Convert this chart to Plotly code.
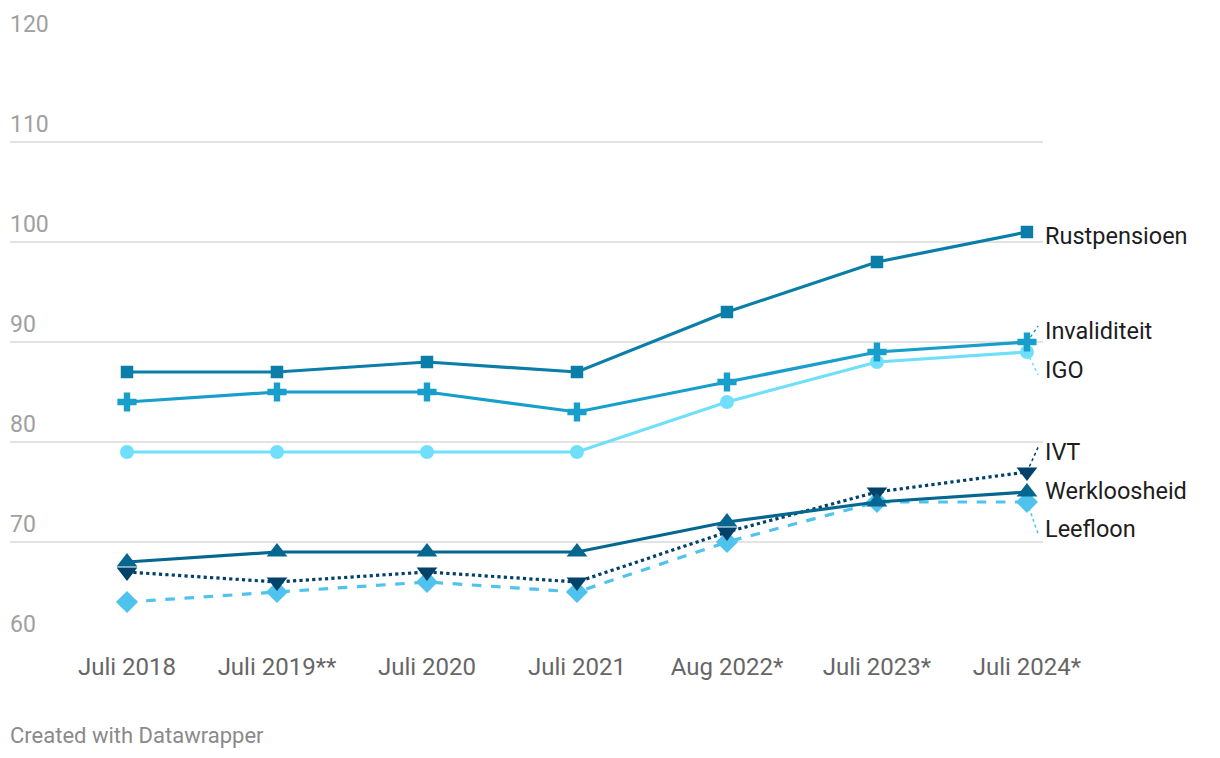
import plotly.graph_objects as go

categories = ["Juli 2018", "Juli 2019**", "Juli 2020", "Juli 2021", "Aug 2022*", "Juli 2023*", "Juli 2024*"]
rustpensioen = [87, 87, 88, 87, 93, 98, 101]
invaliditeit = [84, 85, 85, 83, 86, 89, 90]
igo = [79, 79, 79, 79, 84, 88, 89]
werkloosheid = [68, 69, 69, 69, 72, 74, 75]
ivt = [67, 66, 67, 66, 71, 75, 77]
leefloon = [64, 65, 66, 65, 70, 74, 74]
y_ticks = [60, 70, 80, 90, 100, 110, 120]

series = [
    # name, values, color, dash, symbol, size, label y, leader
    ("Leefloon", leefloon, "#4fc3ee", "dash", "diamond", 17, 71.3, True),
    ("IVT", ivt, "#01426a", "dot", "triangle-down", 18, 79.0, True),
    ("Werkloosheid", werkloosheid, "#05668f", "solid", "triangle-up", 18, 75.1, False),
    ("IGO", igo, "#6fdffc", "solid", "circle", 14, 87.2, True),
    ("Invaliditeit", invaliditeit, "#189ecb", "solid", "cross", 16, 91.1, True),
    ("Rustpensioen", rustpensioen, "#0a7ea8", "solid", "square", 12.5, 100.6, False),
]

x = list(range(len(categories)))
fig = go.Figure()
shapes = []
for name, vals, color, dash, symbol, size, ly, leader in series:
    fig.add_trace(go.Scatter(
        x=x, y=vals, mode="lines+markers", name=name,
        line=dict(color=color, width=3.2, dash=dash),
        marker=dict(symbol=symbol, size=size, color=color, line=dict(width=0)),
        showlegend=False,
    ))
    fig.add_annotation(
        x=x[-1], y=ly, xref="x", yref="y", text=name, showarrow=False,
        xanchor="left", yanchor="middle", xshift=16,
        font=dict(family="Roboto", size=23.5, color="#1d1d1d"),
    )
    if leader:
        shapes.append(dict(
            type="line", xref="x", yref="y",
            x0=x[-1], y0=vals[-1], x1=x[-1] + 0.075, y1=ly + (0.5 if ly > vals[-1] else -0.5),
            line=dict(color=color, width=1.5, dash="dot"),
        ))

for t in y_ticks:
    fig.add_annotation(
        x=0, y=t, xref="paper", yref="y", text=str(t), showarrow=False,
        xanchor="left", yanchor="bottom", yshift=2, xshift=-2,
        font=dict(family="Roboto", size=23, color="#a0a0a0"),
    )

fig.add_annotation(
    text="Created with Datawrapper", xref="paper", yref="paper",
    x=0, y=0, xanchor="left", yanchor="middle", showarrow=False,
    xshift=-2, yshift=-93,
    font=dict(family="Roboto", size=22, color="#8a8a8a"),
)

fig.update_layout(
    width=1220, height=758,
    margin=dict(l=2, r=185, t=34, b=124),
    paper_bgcolor="white", plot_bgcolor="white",
    shapes=shapes,
    xaxis=dict(
        range=[-0.78, 6.107], tickvals=x, ticktext=categories,
        showgrid=False, zeroline=False, showline=False, ticks="",
        ticklabelstandoff=8,
        tickfont=dict(family="Roboto", size=24, color="#666666"),
    ),
    yaxis=dict(
        range=[60, 120], tickvals=y_ticks, showgrid=True,
        gridcolor="#e3e3e3", gridwidth=1.5, zeroline=False,
        showticklabels=False, ticks="",
    ),
)

fig.write_html("out.html")
